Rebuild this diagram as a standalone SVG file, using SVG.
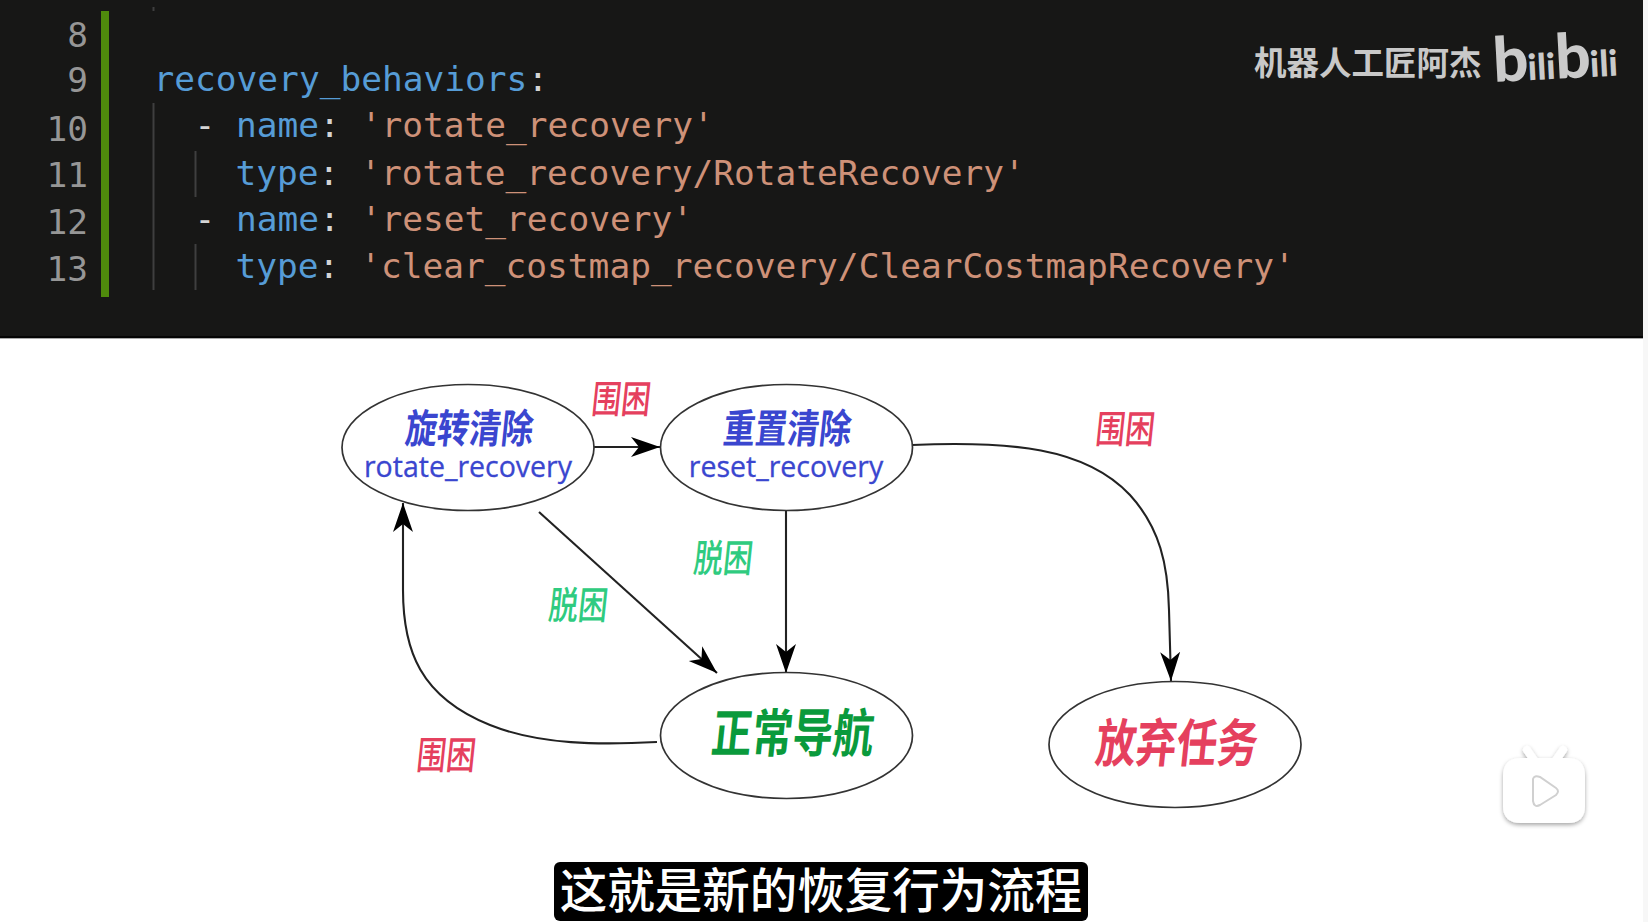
<svg xmlns="http://www.w3.org/2000/svg" width="1648" height="922" viewBox="0 0 1648 922">
<style>
.code{font-family:"DejaVu Sans Mono","Liberation Mono",monospace;font-size:34.500px}
.k{fill:#569cd6}.s{fill:#ce9178}.p{fill:#d4d4d4}
.ln{font-family:"DejaVu Sans Mono","Liberation Mono",monospace;font-size:34.500px;fill:#969696;text-anchor:end}
.guide{stroke:#3f3f3f;stroke-width:2;fill:none}
.node{fill:#fff;stroke:#333;stroke-width:1.700}
.cjk{font-family:"Noto Sans CJK SC","Noto Sans",sans-serif;font-weight:700;text-anchor:middle}
.title{font-size:32px;fill:#3a46cf}
.sub{font-family:"Open Sans","Noto Sans",sans-serif;font-size:28.500px;fill:#3a46cf;text-anchor:middle;stroke:#3a46cf;stroke-width:.3}
.red{fill:#e5405e}.grn{fill:#2fcb80}
.lab{font-size:29.500px;font-weight:500}
.edge{fill:none;stroke:#222;stroke-width:2.100;marker-end:url(#a)}
</style>
<defs>
<marker id="a" markerUnits="userSpaceOnUse" markerWidth="32" markerHeight="26" refX="29" refY="13" orient="auto">
<path d="M0,3 L29,13 L0,23 L8,13 Z" fill="#000"/>
</marker>
<filter id="sh" x="-20%" y="-20%" width="140%" height="140%"><feDropShadow dx="0" dy="2" stdDeviation="2" flood-color="#000" flood-opacity=".35"/></filter>
</defs>
<rect width="1648" height="922" fill="#fff"/>
<rect x="1643" y="0" width="5" height="922" fill="#f7f7f7"/>
<rect width="1643" height="336" fill="#171716"/>
<rect y="336" width="1643" height="2" fill="#050505"/>
<rect y="338" width="1643" height="1" fill="#aaa"/>
<g id="code">
<rect x="101" y="11" width="8" height="286" fill="#4f8a0c"/>
<path class="guide" d="M153.500 7V11M153.500 103V290M195.500 151V197M195.500 244V290"/>
<text class="ln" x="88" y="47">8</text>
<text class="ln" x="88" y="92">9</text>
<text class="ln" x="88" y="141">10</text>
<text class="ln" x="88" y="187">11</text>
<text class="ln" x="88" y="234">12</text>
<text class="ln" x="88" y="281">13</text>
<text class="code" x="153.500" y="91" xml:space="preserve"><tspan class="k">recovery_behaviors</tspan><tspan class="p">:</tspan></text>
<text class="code" x="194.500" y="137" xml:space="preserve"><tspan class="p">- </tspan><tspan class="k">name</tspan><tspan class="p">: </tspan><tspan class="s">'rotate_recovery'</tspan></text>
<text class="code" x="235.500" y="185" xml:space="preserve"><tspan class="k">type</tspan><tspan class="p">: </tspan><tspan class="s">'rotate_recovery/RotateRecovery'</tspan></text>
<text class="code" x="194.500" y="231" xml:space="preserve"><tspan class="p">- </tspan><tspan class="k">name</tspan><tspan class="p">: </tspan><tspan class="s">'reset_recovery'</tspan></text>
<text class="code" x="235.500" y="277.500" xml:space="preserve"><tspan class="k">type</tspan><tspan class="p">: </tspan><tspan class="s">'clear_costmap_recovery/ClearCostmapRecovery'</tspan></text>
</g>
<g id="watermark">
<text x="1254" y="75" font-family="Noto Sans CJK SC,sans-serif" font-weight="700" font-size="32.500" fill="#c8c8c8">机器人工匠阿杰</text>
<text x="1494" y="82" font-family="Lato,sans-serif" font-weight="900" fill="#cacaca" transform="rotate(-3 1494 82)"><tspan font-size="62">b</tspan><tspan font-size="36" dx="-1">ili</tspan><tspan font-size="62">b</tspan><tspan font-size="36" dx="-1">ili</tspan></text>
</g>
<g id="connectors">
<path class="edge" d="M594,447H660"/>
<path class="edge" d="M786,511V673"/>
<path class="edge" d="M539,512L717,673"/>
<path class="edge" d="M657,742C600,745 540,745 490,725C420,697 403,650 403,590C403,560 403,530 403,503"/>
<path class="edge" d="M912,445C1010,441 1085,447 1130,495C1160,528 1168,565 1169,610L1171,681"/>
</g>
<g id="node-rotate">
<ellipse class="node" cx="468" cy="447.500" rx="126" ry="63"/>
<text class="cjk title" transform="translate(468 443) skewX(-6) scale(1 1.250)">旋转清除</text>
<text class="sub" x="468" y="476.500">rotate_recovery</text>
</g>
<g id="node-reset">
<ellipse class="node" cx="786.500" cy="447.500" rx="126" ry="63"/>
<text class="cjk title" transform="translate(786 443) skewX(-6) scale(1 1.250)">重置清除</text>
<text class="sub" x="786" y="476.500">reset_recovery</text>
</g>
<g id="node-normal">
<ellipse class="node" cx="786.500" cy="735.500" rx="126" ry="63"/>
<text class="cjk" font-size="40.500" fill="#0a9a3c" transform="translate(791 752) skewX(-6) scale(1 1.280)">正常导航</text>
</g>
<g id="node-abort">
<ellipse class="node" cx="1175" cy="744.500" rx="126" ry="63"/>
<text class="cjk red" font-size="40.500" transform="translate(1175 762) skewX(-6) scale(1 1.280)">放弃任务</text>
</g>
<g id="labels">
<text class="cjk lab red" transform="translate(620 413) skewX(-6) scale(1 1.300)">围困</text>
<text class="cjk lab red" transform="translate(1124 443) skewX(-6) scale(1 1.300)">围困</text>
<text class="cjk lab red" transform="translate(445 769) skewX(-6) scale(1 1.300)">围困</text>
<text class="cjk lab grn" transform="translate(722 572) skewX(-6) scale(1 1.300)">脱困</text>
<text class="cjk lab grn" transform="translate(577 619) skewX(-6) scale(1 1.300)">脱困</text>
</g>
<g id="subtitle">
<rect x="554" y="862" width="534" height="59" rx="6" fill="#000"/>
<text x="821" y="908" font-family="Noto Sans CJK SC,sans-serif" font-weight="500" font-size="47.500" fill="#fff" text-anchor="middle">这就是新的恢复行为流程</text>
</g>
<g id="play-icon" filter="url(#sh)" fill="#fff">
<path d="M1527,750L1536,763H1554L1563,750" stroke="#fff" stroke-width="8" stroke-linecap="round" fill="none"/>
<path d="M1503,776Q1503,758 1521,758H1568Q1585,758 1585,776V806Q1585,823 1568,823H1521Q1503,823 1503,806Z"/>
</g>
<path d="M1533,779L1533,801Q1534,808 1540,805L1556,795Q1560,791 1556,788L1540,777Q1534,775 1533,779Z" fill="#fff" stroke="#d0d0d0" stroke-width="2"/>
</svg>
